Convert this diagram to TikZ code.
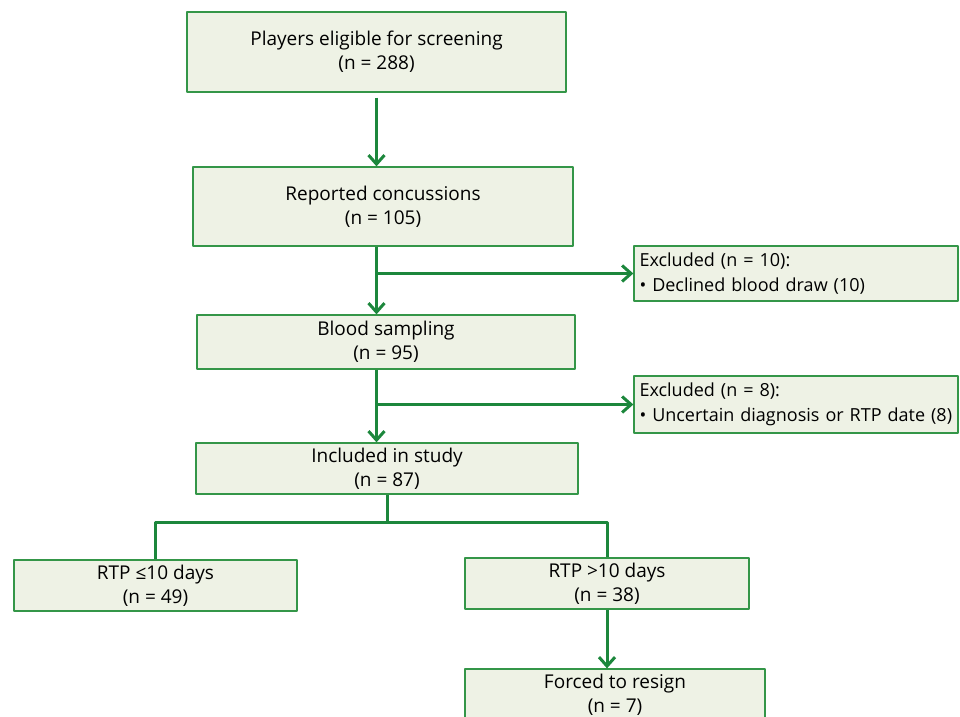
\documentclass[tikz,border=0pt]{standalone}
\usepackage{fontspec}
\setmainfont{Open Sans}
\usetikzlibrary{arrows.meta}
\definecolor{boxgreen}{RGB}{52,150,72}
\definecolor{linegreen}{RGB}{28,135,60}
\definecolor{boxfill}{RGB}{238,242,229}
\begin{document}
\begin{tikzpicture}[x=1pt,y=-1pt,>={Straight Barb[length=9pt,width=16pt]}, font=\fontsize{19}{24}\selectfont, line join=round]
	\tikzset{box/.style={draw=boxgreen, fill=boxfill, line width=1.3pt, align=center, inner sep=0pt},
		exbox/.style={box, align=left, text width=313pt, inner xsep=5.5pt, font=\fontsize{18}{25}\selectfont},
		flow/.style={draw=linegreen, line width=3pt}}
	\useasboundingbox (0,0) rectangle (960,716);
	% main column
	\node[box, minimum width=379, minimum height=80] (screen) at (376.5,52) {Players eligible for screening\\(n = 288)};
	\node[box, minimum width=380, minimum height=79] (concuss) at (383,206.5) {Reported concussions\\(n = 105)};
	\node[box, minimum width=378, minimum height=54] (blood) at (386,342) {Blood sampling\\(n = 95)};
	\node[box, minimum width=382, minimum height=51] (incl) at (387,468.5) {Included in study\\(n = 87)};
	% exclusions
	\node[exbox, minimum height=55] (excl1) at (796,273.5) {Excluded (n = 10):\\\textbullet{} Declined blood draw (10)};
	\node[exbox, minimum height=57] (excl2) at (796,404.5) {Excluded (n = 8):\\\textbullet{} Uncertain diagnosis or RTP date (8)};
	% groups
	\node[box, minimum width=283, minimum height=51] (short) at (155.5,585.5) {RTP ≤10 days\\(n = 49)};
	\node[box, minimum width=284, minimum height=51] (long) at (607,583.5) {RTP >10 days\\(n = 38)};
	\node[box, minimum width=300, minimum height=51] (resign) at (615,694.5) {Forced to resign\\(n = 7)};
	% connectors
	\draw[flow,->] ([yshift=-5pt]screen.south) -- (screen.south |- concuss.north);
	\draw[flow,->] (concuss.south -| screen.south) -- (screen.south |- blood.north);
	\draw[flow,->] (screen.south |- excl1.west) -- (excl1.west);
	\draw[flow,->] (blood.south -| screen.south) -- (screen.south |- incl.north);
	\draw[flow,->] (screen.south |- excl2.west) -- (excl2.west);
	\draw[flow] (incl.south) -- ++(0,28) coordinate (split);
	\draw[flow] (short.north) |- (split) -| (long.north);
	\draw[flow,->] (long.south) -- (long.south |- resign.north);
\end{tikzpicture}
\end{document}
